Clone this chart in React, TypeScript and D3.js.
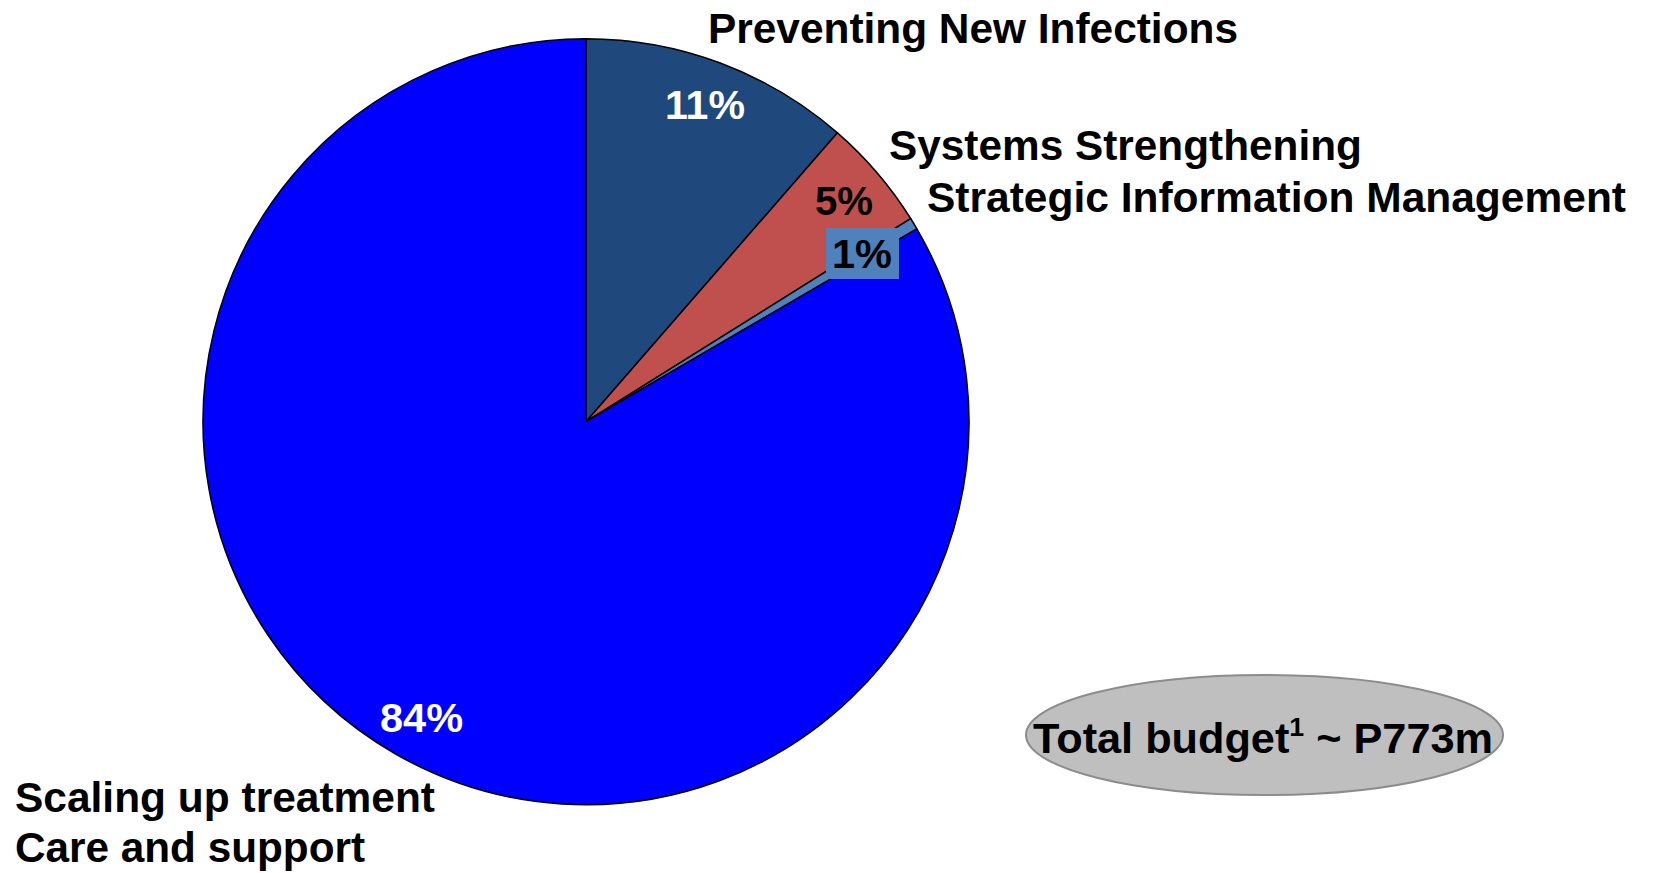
import React from "react";
import * as d3 from "d3";

const categories = [
  "Preventing New Infections",
  "Systems Strengthening",
  "Strategic Information Management",
  "Scaling up treatment / Care and support",
];
const values = [11.4, 4.7, 0.5, 83.4];
const pctLabels = ["11%", "5%", "1%", "84%"];
const colors = ["#1F497D", "#C0504D", "#4F81BD", "#0000FF"];
const totalLabel = "Total budget";
const totalSup = "1";
const totalRest = " ~ P773m";

const W = 1653;
const H = 873;
const CX = 586;
const CY = 421.7;
const R = 383;
const FONT = "'Liberation Sans', Arial, Helvetica, sans-serif";

export default function App() {
  const pie = d3.pie<number>().sort(null).value((d) => d)(values);
  const arc = d3.arc<d3.PieArcDatum<number>>().innerRadius(0).outerRadius(R);

  const pctPos = [
    { x: 665, y: 119, w: 80, fill: "#FFFFFF" },
    { x: 815, y: 215, w: 58, fill: "#000000" },
    { x: 832, y: 268, w: 60, fill: "#000000" },
    { x: 380, y: 732, w: 83, fill: "#FFFFFF" },
  ];

  const T = (x: number, y: number, w: number, s: string) => (
    <text x={x} y={y} fontSize={42} fill="#000" textLength={w} lengthAdjust="spacingAndGlyphs">
      {s}
    </text>
  );

  return (
    <svg
      width={W}
      height={H}
      style={{ position: "absolute", left: 0, top: 0, background: "#fff" }}
      fontFamily={FONT}
      fontWeight="bold"
    >
      <g transform={`translate(${CX},${CY})`}>
        {pie.map((p, i) => (
          <path
            key={i}
            d={arc(p) || ""}
            fill={colors[i]}
            stroke="#000"
            strokeWidth={1.5}
            strokeLinejoin="round"
          />
        ))}
      </g>

      <rect x={826} y={228} width={73} height={51} fill={colors[2]} />

      {pctLabels.map((t, i) => (
        <text
          key={t}
          x={pctPos[i].x}
          y={pctPos[i].y}
          fontSize={41}
          fill={pctPos[i].fill}
          textLength={pctPos[i].w}
          lengthAdjust="spacingAndGlyphs"
        >
          {t}
        </text>
      ))}

      {T(708, 43, 530, categories[0])}
      {T(889, 160, 473, categories[1])}
      {T(927, 212, 699, categories[2])}
      {T(15, 812, 420, "Scaling up treatment")}
      {T(15, 862, 350, "Care and support")}

      <ellipse cx={1264.5} cy={735} rx={238.5} ry={60} fill="#BFBFBF" stroke="#8C8C8C" strokeWidth={2} />
      <text x={1033} y={753} fontSize={42} fill="#000" textLength={460} lengthAdjust="spacingAndGlyphs">
        {totalLabel}
        <tspan fontSize={26} dy={-17}>{totalSup}</tspan>
        <tspan dy={17}>{totalRest}</tspan>
      </text>
    </svg>
  );
}
